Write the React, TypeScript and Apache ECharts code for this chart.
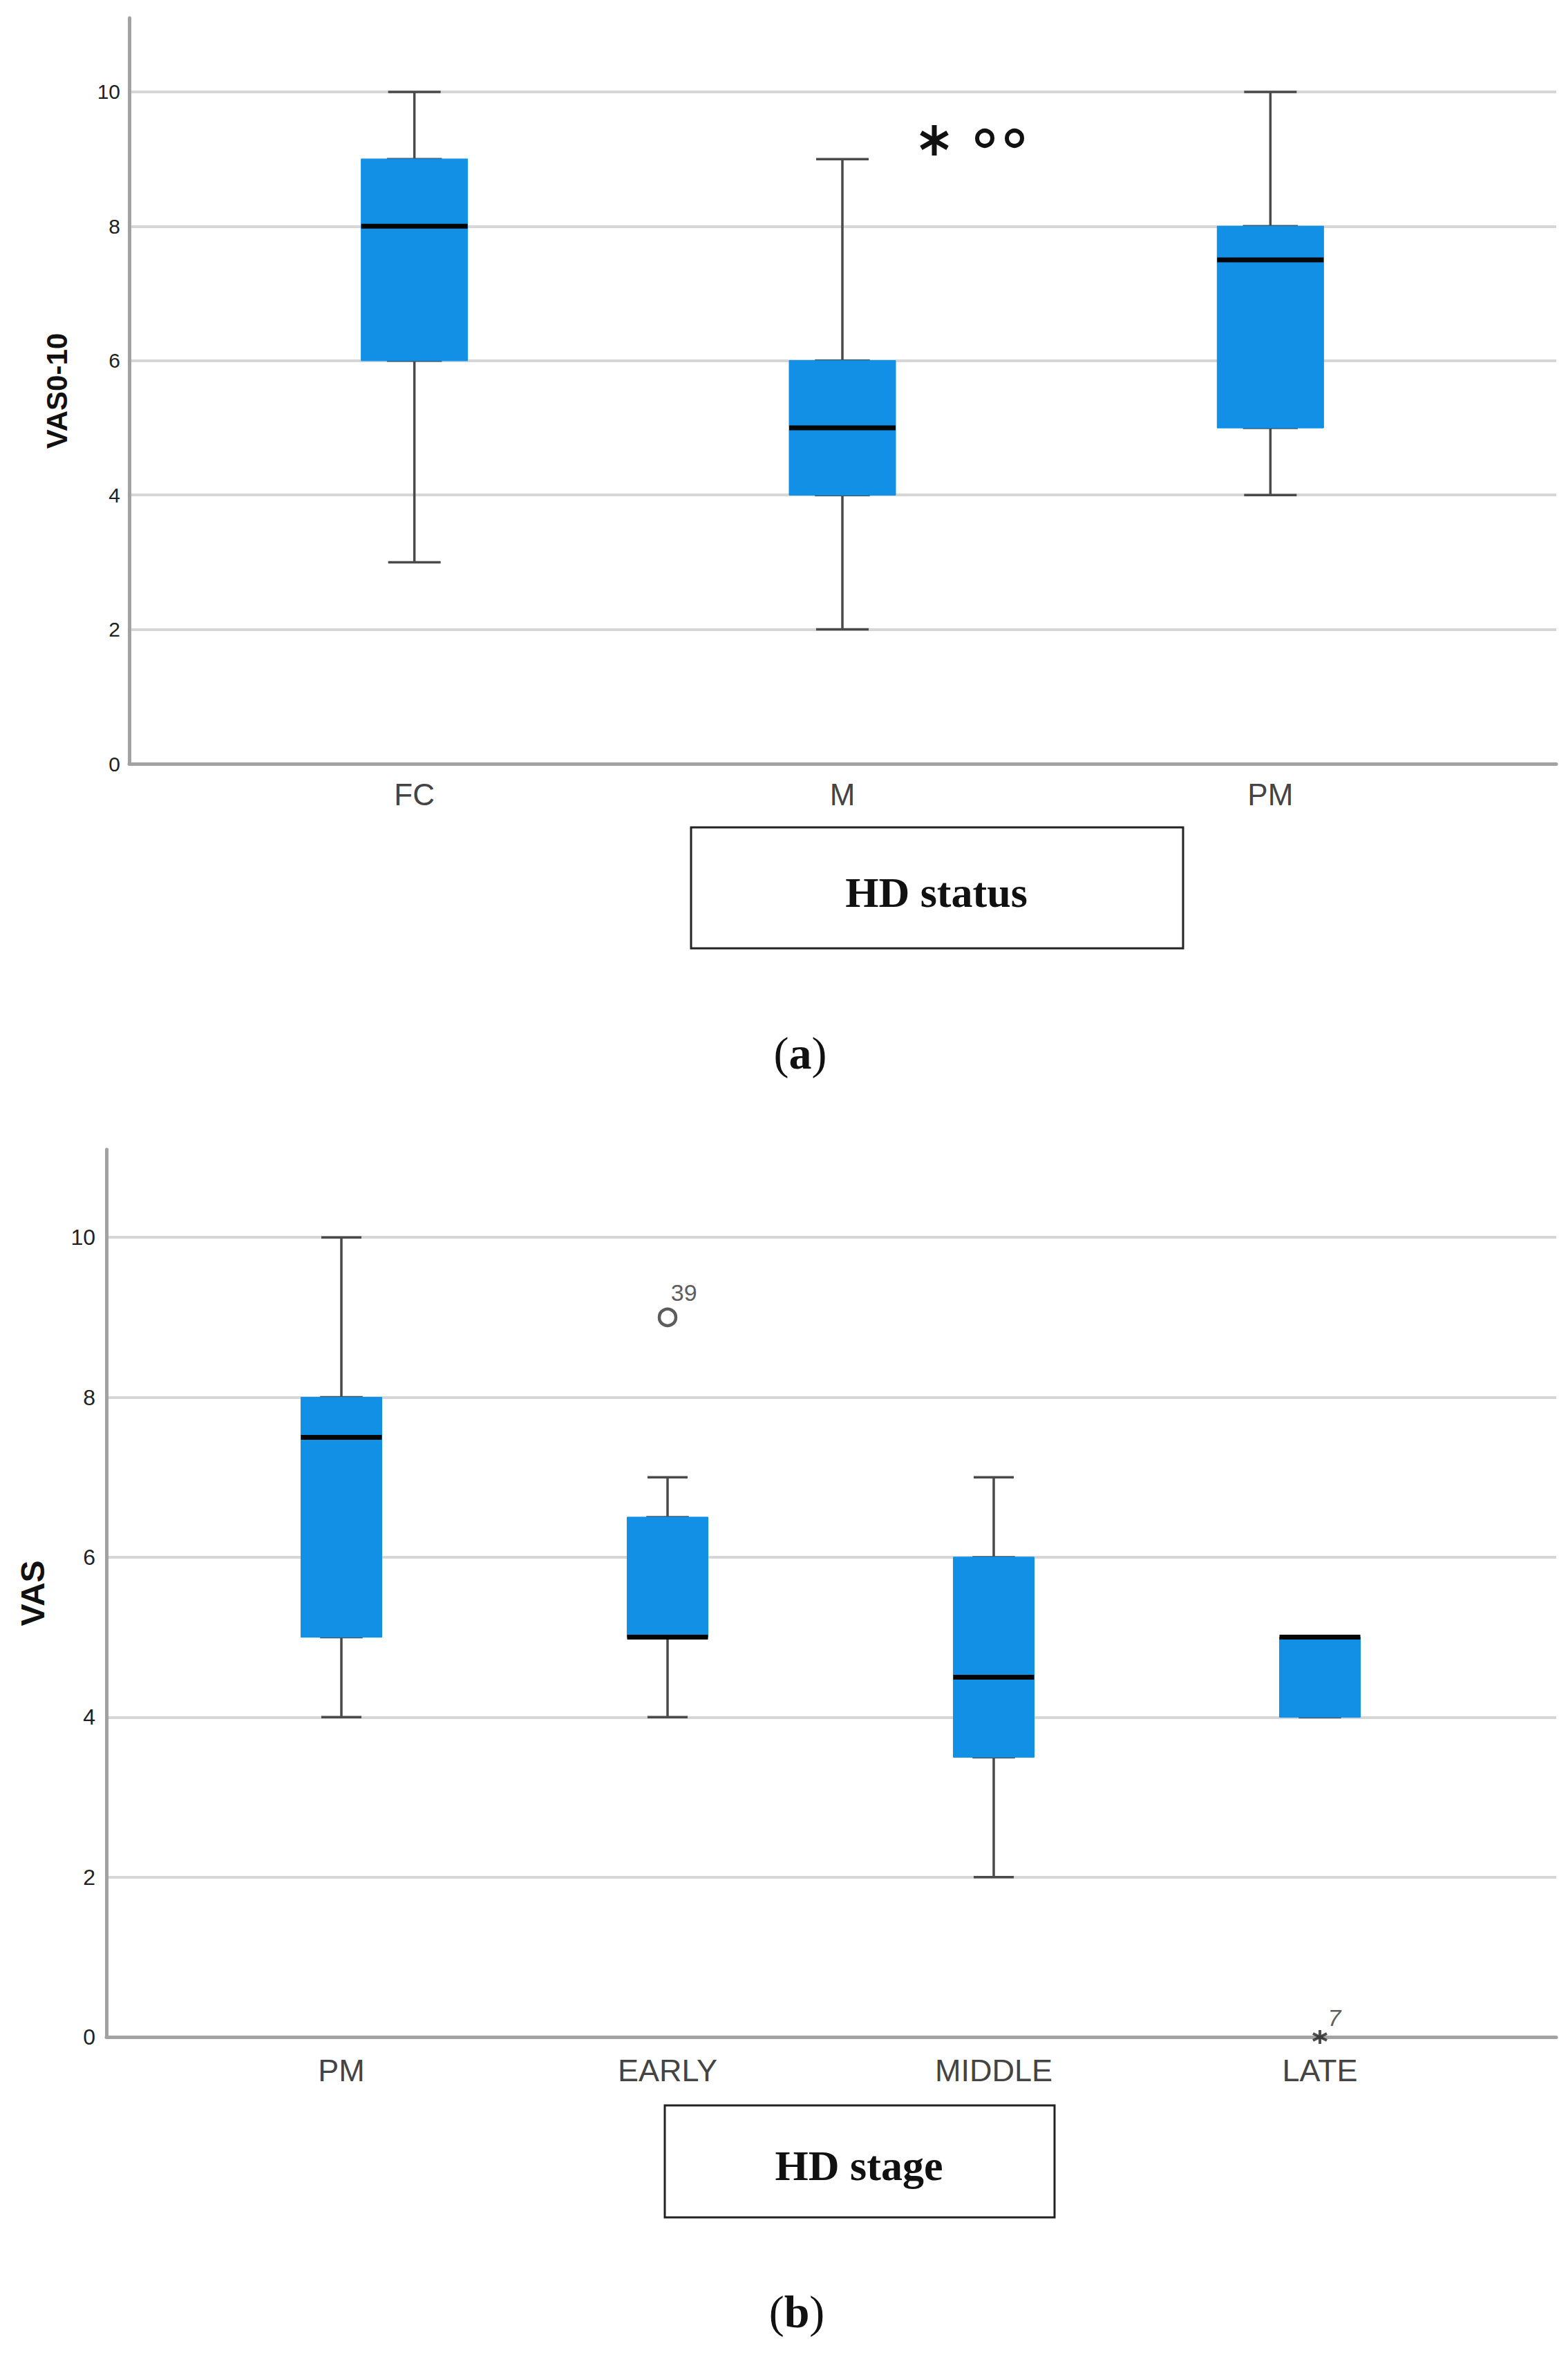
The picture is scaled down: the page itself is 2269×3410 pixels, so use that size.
import React, { useEffect, useRef } from 'react';
import * as echarts from 'echarts';

// ---------- Data: panel (a) HD status ----------
const statusCategories = ['FC', 'M', 'PM'];
const statusMin = [3, 2, 4];
const statusQ1 = [6, 4, 5];
const statusMedian = [8, 5, 7.5];
const statusQ3 = [9, 6, 8];
const statusMax = [10, 9, 10];

// ---------- Data: panel (b) HD stage ----------
const stageCategories = ['PM', 'EARLY', 'MIDDLE', 'LATE'];
const stageMin = [4, 4, 2, 4];
const stageQ1 = [5, 5, 3.5, 4];
const stageMedian = [7.5, 5, 4.5, 5];
const stageQ3 = [8, 6.5, 6, 5];
const stageMax = [10, 7, 7, 5];

const stageOutlierCategory = ['EARLY', 'LATE'];
const stageOutlierValue = [9, 0];
const stageOutlierCase = ['39', '7'];
const stageOutlierKind = ['mild', 'extreme'];

const yTickValues = [0, 2, 4, 6, 8, 10];
const yAxisMax = 11.1;

const BLUE = '#1190E6';
const GRID_GRAY = '#d6d6d6';
const AXIS_GRAY = '#a2a2a2';
const WHISKER = '#4a4a4a';
const SANS = '"Liberation Sans", Arial, sans-serif';
const SERIF = '"Liberation Serif", "Times New Roman", serif';

function buildPanel(cfg: any) {
  const gb = cfg.gridBase;
  const grids = [
    { left: cfg.left, top: cfg.top, width: cfg.width, height: cfg.height },
    { left: cfg.innerLeft, top: cfg.top, width: cfg.innerWidth, height: cfg.height },
    { left: cfg.innerLeft, top: cfg.top, width: cfg.innerWidth, height: cfg.height },
    { left: cfg.innerLeft, top: cfg.top, width: cfg.innerWidth, height: cfg.height },
  ];
  const xAxes: any[] = [
    {
      gridIndex: gb, type: 'value', min: 0, max: 1,
      axisLine: { show: true, onZero: false, lineStyle: { color: AXIS_GRAY, width: 5 } },
      axisTick: { show: false }, axisLabel: { show: false }, splitLine: { show: false },
    },
    {
      gridIndex: gb + 1, type: 'category', data: cfg.cats,
      axisLine: { show: false }, axisTick: { show: false }, splitLine: { show: false },
      axisLabel: { show: true, color: '#444', fontSize: cfg.catSize, fontFamily: SANS, margin: cfg.catMargin },
    },
    { gridIndex: gb + 2, type: 'category', data: cfg.cats, show: false },
    { gridIndex: gb + 3, type: 'category', data: cfg.cats, show: false },
  ];
  const yAxes: any[] = [
    {
      gridIndex: gb, type: 'value', min: 0, max: yAxisMax, interval: 2,
      name: cfg.yName, nameLocation: 'middle', nameGap: cfg.nameGap,
      nameTextStyle: { fontSize: cfg.nameSize, fontWeight: 'bold', color: '#111', fontFamily: SANS },
      axisLine: { show: true, onZero: false, lineStyle: { color: AXIS_GRAY, width: 5 } },
      axisTick: { show: false },
      axisLabel: {
        color: '#222', fontSize: cfg.tickSize, fontFamily: SANS, margin: cfg.tickMargin,
        showMaxLabel: false,
        formatter: (v: number) => (yTickValues.indexOf(v) >= 0 ? String(v) : ''),
      },
      splitLine: { show: true, showMinLine: false, showMaxLine: false, lineStyle: { color: GRID_GRAY, width: 4 } },
    },
    { gridIndex: gb + 1, type: 'value', min: 0, max: yAxisMax, show: false, splitLine: { show: false } },
    { gridIndex: gb + 2, type: 'value', min: 0, max: yAxisMax, show: false, splitLine: { show: false } },
    { gridIndex: gb + 3, type: 'value', min: 0, max: yAxisMax, show: false, splitLine: { show: false } },
  ];
  const n = cfg.cats.length;
  const idx = Array.from({ length: n }, (_, i) => i);
  const series: any[] = [
    {
      type: 'boxplot', name: 'whiskers', xAxisIndex: gb + 1, yAxisIndex: gb + 1, z: 2,
      boxWidth: [cfg.capW, cfg.capW], silent: true,
      data: idx.map((i) => [cfg.mins[i], cfg.q1[i], cfg.med[i], cfg.q3[i], cfg.maxs[i]]),
      itemStyle: { color: 'rgba(0,0,0,0)', borderColor: WHISKER, borderWidth: 3.5 },
    },
    {
      type: 'boxplot', name: 'boxes', xAxisIndex: gb + 2, yAxisIndex: gb + 2, z: 3,
      boxWidth: [cfg.boxW, cfg.boxW], silent: true,
      data: idx.map((i) => [cfg.q1[i], cfg.q1[i], cfg.med[i], cfg.q3[i], cfg.q3[i]]),
      itemStyle: { color: BLUE, borderColor: BLUE, borderWidth: 1 },
    },
    {
      type: 'boxplot', name: 'medians', xAxisIndex: gb + 3, yAxisIndex: gb + 3, z: 4,
      boxWidth: [cfg.boxW, cfg.boxW], silent: true,
      data: idx.map((i) => [cfg.med[i], cfg.med[i], cfg.med[i], cfg.med[i], cfg.med[i]]),
      itemStyle: { color: '#000', borderColor: '#050505', borderWidth: 7 },
    },
  ];
  return { grids, xAxes, yAxes, series };
}

export default function App() {
  const ref = useRef<HTMLDivElement>(null);
  useEffect(() => {
    if (!ref.current) return;
    const chart = echarts.init(ref.current, undefined, { renderer: 'svg' });

    const a = buildPanel({
      gridBase: 0, left: 187, top: 26, width: 2065, height: 1079,
      innerLeft: 290, innerWidth: 1858,
      cats: statusCategories, mins: statusMin, q1: statusQ1, med: statusMedian, q3: statusQ3, maxs: statusMax,
      capW: 76, boxW: 154, yName: 'VAS0-10', nameGap: 84, nameSize: 42, tickSize: 30, tickMargin: 13,
      catSize: 44, catMargin: 22,
    });
    const b = buildPanel({
      gridBase: 4, left: 154, top: 1663, width: 2098, height: 1284,
      innerLeft: 258, innerWidth: 1888,
      cats: stageCategories, mins: stageMin, q1: stageQ1, med: stageMedian, q3: stageQ3, maxs: stageMax,
      capW: 58, boxW: 117, yName: 'VAS', nameGap: 83, nameSize: 48, tickSize: 32, tickMargin: 16,
      catSize: 45, catMargin: 26,
    });

    const outlierData = stageOutlierCategory.map((c, i) => {
      const extreme = stageOutlierKind[i] === 'extreme';
      return {
        value: [c, stageOutlierValue[i]],
        symbol: extreme ? 'path://M0,-10L0,10M-8.66,-5L8.66,5M-8.66,5L8.66,-5' : 'circle',
        symbolSize: extreme ? 20 : 24,
        itemStyle: extreme
          ? { color: 'rgba(0,0,0,0)', borderColor: '#222', borderWidth: 4 }
          : { color: 'rgba(0,0,0,0)', borderColor: '#333', borderWidth: 4.5 },
        label: {
          show: true,
          formatter: stageOutlierCase[i],
          position: extreme ? [33, -16] : [38, -22],
          align: 'center', verticalAlign: 'middle',
          fontSize: 34, color: '#333', fontFamily: SANS,
          fontStyle: extreme ? 'italic' : 'normal',
        },
      };
    });

    const letter = (ch: string, x: number, y: number) => ({
      type: 'text', z: 11, x, y,
      style: {
        text: '{p|(}{b|' + ch + '}{p|)}', textAlign: 'center', textVerticalAlign: 'middle',
        rich: {
          p: { fontSize: 66, fontWeight: 'normal', fontFamily: SERIF, fill: '#111' },
          b: { fontSize: 66, fontWeight: 'bold', fontFamily: SERIF, fill: '#111' },
        },
      },
    });

    const option: any = {
      animation: false,
      backgroundColor: '#ffffff',
      textStyle: { fontFamily: SANS },
      grid: [...a.grids, ...b.grids],
      xAxis: [...a.xAxes, ...b.xAxes],
      yAxis: [...a.yAxes, ...b.yAxes],
      series: [
        ...a.series,
        ...b.series,
        {
          type: 'scatter', name: 'outliers', xAxisIndex: 5, yAxisIndex: 5, z: 6, silent: true,
          data: outlierData,
        },
      ],
      graphic: [
        // significance marks in panel (a)
        { type: 'line', z: 10, shape: { x1: 1352, y1: 181, x2: 1352, y2: 225 }, style: { stroke: '#111', lineWidth: 7 } },
        { type: 'line', z: 10, shape: { x1: 1333, y1: 192, x2: 1371, y2: 214 }, style: { stroke: '#111', lineWidth: 7 } },
        { type: 'line', z: 10, shape: { x1: 1333, y1: 214, x2: 1371, y2: 192 }, style: { stroke: '#111', lineWidth: 7 } },
        { type: 'circle', z: 10, shape: { cx: 1425, cy: 200, r: 11 }, style: { fill: 'none', stroke: '#111', lineWidth: 6 } },
        { type: 'circle', z: 10, shape: { cx: 1468, cy: 200, r: 11 }, style: { fill: 'none', stroke: '#111', lineWidth: 6 } },
        // axis title boxes
        { type: 'rect', z: 10, shape: { x: 1000, y: 1197, width: 712, height: 175 }, style: { fill: '#fff', stroke: '#222', lineWidth: 3 } },
        { type: 'text', z: 11, x: 1355, y: 1291, style: { text: 'HD status', font: 'bold 62px ' + SERIF, fill: '#111', textAlign: 'center', textVerticalAlign: 'middle' } },
        { type: 'rect', z: 10, shape: { x: 962, y: 3046, width: 564, height: 162 }, style: { fill: '#fff', stroke: '#222', lineWidth: 3 } },
        { type: 'text', z: 11, x: 1243, y: 3133, style: { text: 'HD stage', font: 'bold 62px ' + SERIF, fill: '#111', textAlign: 'center', textVerticalAlign: 'middle' } },
        // panel letters
        letter('a', 1158, 1523),
        letter('b', 1153, 3344),
      ],
    };
    chart.setOption(option);
    return () => chart.dispose();
  }, []);
  return (
    <div
      ref={ref}
      style={{ position: 'absolute', left: 0, top: 0, width: 2269, height: 3410, background: '#fff' }}
    />
  );
}
